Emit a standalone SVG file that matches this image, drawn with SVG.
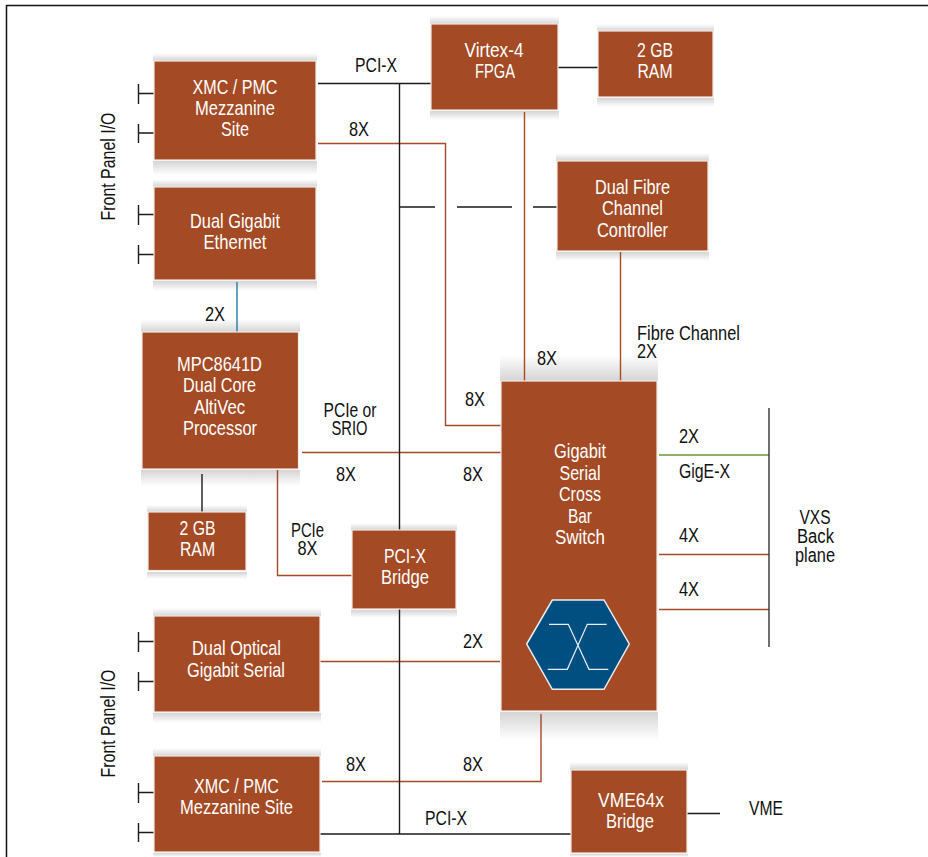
<svg xmlns="http://www.w3.org/2000/svg" width="928" height="857" viewBox="0 0 928 857">
<style>
text{font-family:"Liberation Sans",Arial,sans-serif;font-size:21px;text-anchor:middle}
.w{fill:#fff}
.l{fill:#111;font-size:20px}
.box{fill:#a44a24;stroke:#f3e9e4;stroke-width:1.200}
.c{fill:none;stroke-width:1.400}
.b{stroke:#1a1a1a}
.r{stroke:#a44a24}
.t{fill:url(#up)}
.d{fill:url(#dn)}
</style>
<defs>
<linearGradient id="up" x1="0" y1="0" x2="0" y2="1"><stop offset="0" stop-color="#aaa" stop-opacity="0"/><stop offset="1" stop-color="#aaa" stop-opacity=".5"/></linearGradient>
<linearGradient id="dn" x1="0" y1="0" x2="0" y2="1"><stop offset="0" stop-color="#aaa" stop-opacity=".5"/><stop offset="1" stop-color="#aaa" stop-opacity="0"/></linearGradient>
</defs>
<rect width="928" height="857" fill="#fff"/>
<path d="M6.500 857V5.500H928" fill="none" stroke="#111" stroke-width="1.500"/>

<g id="shadows">
<rect class="t" x="153" y="53" width="164" height="8"/><rect class="d" x="153" y="161" width="164" height="14"/>
<rect class="t" x="153" y="179" width="164" height="8"/><rect class="d" x="153" y="281" width="164" height="10"/>
<rect class="t" x="141" y="319" width="159" height="13"/><rect class="d" x="141" y="470" width="159" height="16"/>
<rect class="t" x="147" y="505" width="100" height="7"/><rect class="d" x="147" y="572" width="100" height="7"/>
<rect class="t" x="351" y="523" width="106" height="7"/><rect class="d" x="351" y="610" width="106" height="8"/>
<rect class="t" x="153" y="608" width="168" height="8"/><rect class="d" x="153" y="713" width="168" height="10"/>
<rect class="t" x="153" y="748" width="168" height="8"/><rect class="d" x="153" y="853" width="168" height="4"/>
<rect class="t" x="430" y="16" width="129" height="8"/><rect class="d" x="430" y="111" width="129" height="9"/>
<rect class="t" x="597" y="24" width="117" height="7"/><rect class="d" x="597" y="98" width="117" height="9"/>
<rect class="t" x="556" y="153" width="153" height="8"/><rect class="d" x="556" y="252" width="153" height="9"/>
<rect class="t" x="500" y="355" width="158" height="26"/><rect class="d" x="500" y="712" width="158" height="28"/>
<rect class="t" x="570" y="762" width="118" height="8"/><rect class="d" x="570" y="854" width="118" height="3"/>
</g>

<g id="connectors">
<path class="c r" d="M318 143.500H445.500V425.500H501"/>
<path class="c r" d="M524.500 112V381"/>
<path class="c r" d="M620.500 252V381"/>
<path class="c r" d="M302 452.500H501"/>
<path class="c r" d="M277.500 470V575.500H352"/>
<path class="c r" d="M320 661.500H500"/>
<path class="c r" d="M541 714V781.500H322"/>
<path class="c r" d="M659 554.500H769"/>
<path class="c r" d="M659 609.500H769"/>
<path class="c" stroke="#6a9a3a" d="M659 455H769"/>
<path class="c" stroke="#2a77a8" d="M237 282V332"/>
<path class="c b" d="M318 83.500H431"/>
<path class="c b" d="M399.500 83.500V834"/>
<path class="c b" d="M399.500 207H435M457 207H512M533 207H557"/>
<path class="c b" d="M556 67.500H598"/>
<path class="c b" d="M202 474V512"/>
<path class="c b" d="M318 834H571"/>
<path class="c b" d="M687 813.500H720"/>
<path class="c" stroke="#333" stroke-width="2" d="M769 408V647"/>
<path class="c b" d="M138.500 84V104M139 93.500H154M138.500 124V143M139 133H154M138.500 205V225M139 214.500H154M138.500 245V264M139 254.500H154M138.500 632V652M139 641.500H154M138.500 672V691M139 681.500H154M138.500 783V803M139 792.500H154M138.500 823V842M139 832.500H154"/>
</g>

<g id="xmc-top"><rect class="box" x="154" y="61" width="162" height="99"/>
<text class="w" x="235" y="94" textLength="85" lengthAdjust="spacingAndGlyphs">XMC / PMC</text>
<text class="w" x="235" y="115" textLength="80" lengthAdjust="spacingAndGlyphs">Mezzanine</text>
<text class="w" x="235" y="136" textLength="28" lengthAdjust="spacingAndGlyphs">Site</text></g>
<g id="dual-gigabit"><rect class="box" x="154" y="187" width="162" height="93"/>
<text class="w" x="235" y="228" textLength="90" lengthAdjust="spacingAndGlyphs">Dual Gigabit</text>
<text class="w" x="235" y="249" textLength="63" lengthAdjust="spacingAndGlyphs">Ethernet</text></g>
<g id="mpc"><rect class="box" x="142" y="332" width="156.500" height="137"/>
<text class="w" x="219.500" y="370.500" textLength="85" lengthAdjust="spacingAndGlyphs">MPC8641D</text>
<text class="w" x="219.500" y="391.500" textLength="73" lengthAdjust="spacingAndGlyphs">Dual Core</text>
<text class="w" x="219.500" y="413.500" textLength="51" lengthAdjust="spacingAndGlyphs">AltiVec</text>
<text class="w" x="220" y="434.500" textLength="74" lengthAdjust="spacingAndGlyphs">Processor</text></g>
<g id="ram-left"><rect class="box" x="148" y="512" width="98" height="58.500"/>
<text class="w" x="197.500" y="534.500" textLength="36" lengthAdjust="spacingAndGlyphs">2 GB</text>
<text class="w" x="197.500" y="555.500" textLength="35" lengthAdjust="spacingAndGlyphs">RAM</text></g>
<g id="pcix-bridge"><rect class="box" x="352" y="530" width="104" height="79"/>
<text class="w" x="405" y="563" textLength="42" lengthAdjust="spacingAndGlyphs">PCI-X</text>
<text class="w" x="405" y="584" textLength="48" lengthAdjust="spacingAndGlyphs">Bridge</text></g>
<g id="dual-optical"><rect class="box" x="154" y="616" width="166" height="96"/>
<text class="w" x="236.500" y="655" textLength="89" lengthAdjust="spacingAndGlyphs">Dual Optical</text>
<text class="w" x="236" y="676.500" textLength="98" lengthAdjust="spacingAndGlyphs">Gigabit Serial</text></g>
<g id="xmc-bottom"><rect class="box" x="154" y="756" width="166" height="96"/>
<text class="w" x="236.500" y="793" textLength="85" lengthAdjust="spacingAndGlyphs">XMC / PMC</text>
<text class="w" x="236.500" y="814" textLength="113" lengthAdjust="spacingAndGlyphs">Mezzanine Site</text></g>
<g id="virtex"><rect class="box" x="431" y="24" width="127" height="86"/>
<text class="w" x="494" y="57" textLength="59" lengthAdjust="spacingAndGlyphs">Virtex-4</text>
<text class="w" x="495" y="78" textLength="40" lengthAdjust="spacingAndGlyphs">FPGA</text></g>
<g id="ram-top"><rect class="box" x="598" y="31" width="115" height="66"/>
<text class="w" x="655" y="57" textLength="36" lengthAdjust="spacingAndGlyphs">2 GB</text>
<text class="w" x="655" y="78" textLength="35" lengthAdjust="spacingAndGlyphs">RAM</text></g>
<g id="dual-fibre"><rect class="box" x="557" y="161" width="151" height="90"/>
<text class="w" x="632.500" y="194" textLength="75" lengthAdjust="spacingAndGlyphs">Dual Fibre</text>
<text class="w" x="632.500" y="215" textLength="61" lengthAdjust="spacingAndGlyphs">Channel</text>
<text class="w" x="632.500" y="237" textLength="71" lengthAdjust="spacingAndGlyphs">Controller</text></g>
<g id="switch"><rect class="box" x="501" y="381" width="156" height="330"/>
<text class="w" x="580" y="458" textLength="52" lengthAdjust="spacingAndGlyphs">Gigabit</text>
<text class="w" x="580" y="479.500" textLength="41" lengthAdjust="spacingAndGlyphs">Serial</text>
<text class="w" x="580" y="500.500" textLength="42" lengthAdjust="spacingAndGlyphs">Cross</text>
<text class="w" x="580" y="522.500" textLength="24" lengthAdjust="spacingAndGlyphs">Bar</text>
<text class="w" x="580" y="543.500" textLength="50" lengthAdjust="spacingAndGlyphs">Switch</text>
<polygon points="526.700,644 552.300,600 604,600 629.300,644 604,689.300 552.300,689.300" fill="#004f80" stroke="#e8eef2" stroke-width="1.500"/>
<path d="M549 624.300H568.300L589 669.300H608.300M606.700 624.300H587.300L567.300 669.300H547.700" fill="none" stroke="#e8eef2" stroke-width="1.200"/></g>
<g id="vme-bridge"><rect class="box" x="571" y="770" width="116" height="83"/>
<text class="w" x="631" y="807" textLength="66" lengthAdjust="spacingAndGlyphs">VME64x</text>
<text class="w" x="630" y="828" textLength="48" lengthAdjust="spacingAndGlyphs">Bridge</text></g>

<g id="labels">
<text class="l" transform="translate(114.500 166.500) rotate(-90)" textLength="108" lengthAdjust="spacingAndGlyphs">Front Panel I/O</text>
<text class="l" transform="translate(114.500 723.500) rotate(-90)" textLength="108" lengthAdjust="spacingAndGlyphs">Front Panel I/O</text>
<text class="l" x="376" y="72" textLength="42" lengthAdjust="spacingAndGlyphs">PCI-X</text>
<text class="l" x="359" y="135.500" textLength="20" lengthAdjust="spacingAndGlyphs">8X</text>
<text class="l" x="215" y="320.500" textLength="20" lengthAdjust="spacingAndGlyphs">2X</text>
<text class="l" x="350" y="417" textLength="53" lengthAdjust="spacingAndGlyphs">PCIe or</text>
<text class="l" x="349.500" y="435" textLength="36" lengthAdjust="spacingAndGlyphs">SRIO</text>
<text class="l" x="346" y="480.500" textLength="20" lengthAdjust="spacingAndGlyphs">8X</text>
<text class="l" x="473" y="480.500" textLength="20" lengthAdjust="spacingAndGlyphs">8X</text>
<text class="l" x="475" y="405.500" textLength="20" lengthAdjust="spacingAndGlyphs">8X</text>
<text class="l" x="547" y="365" textLength="20" lengthAdjust="spacingAndGlyphs">8X</text>
<text class="l" x="688.500" y="339.500" textLength="103" lengthAdjust="spacingAndGlyphs">Fibre Channel</text>
<text class="l" x="647" y="358" textLength="20" lengthAdjust="spacingAndGlyphs">2X</text>
<text class="l" x="689" y="442.500" textLength="20" lengthAdjust="spacingAndGlyphs">2X</text>
<text class="l" x="704.500" y="478" textLength="51" lengthAdjust="spacingAndGlyphs">GigE-X</text>
<text class="l" x="689" y="541.500" textLength="20" lengthAdjust="spacingAndGlyphs">4X</text>
<text class="l" x="689" y="595.500" textLength="20" lengthAdjust="spacingAndGlyphs">4X</text>
<text class="l" x="815" y="523.500" textLength="31" lengthAdjust="spacingAndGlyphs">VXS</text>
<text class="l" x="815.500" y="543" textLength="37" lengthAdjust="spacingAndGlyphs">Back</text>
<text class="l" x="815" y="562" textLength="40" lengthAdjust="spacingAndGlyphs">plane</text>
<text class="l" x="307.500" y="537" textLength="33" lengthAdjust="spacingAndGlyphs">PCIe</text>
<text class="l" x="307.500" y="555" textLength="20" lengthAdjust="spacingAndGlyphs">8X</text>
<text class="l" x="473" y="647.500" textLength="20" lengthAdjust="spacingAndGlyphs">2X</text>
<text class="l" x="356" y="770.500" textLength="20" lengthAdjust="spacingAndGlyphs">8X</text>
<text class="l" x="473" y="770.500" textLength="20" lengthAdjust="spacingAndGlyphs">8X</text>
<text class="l" x="446" y="825" textLength="42" lengthAdjust="spacingAndGlyphs">PCI-X</text>
<text class="l" x="766" y="814.500" textLength="34" lengthAdjust="spacingAndGlyphs">VME</text>
</g>
</svg>
